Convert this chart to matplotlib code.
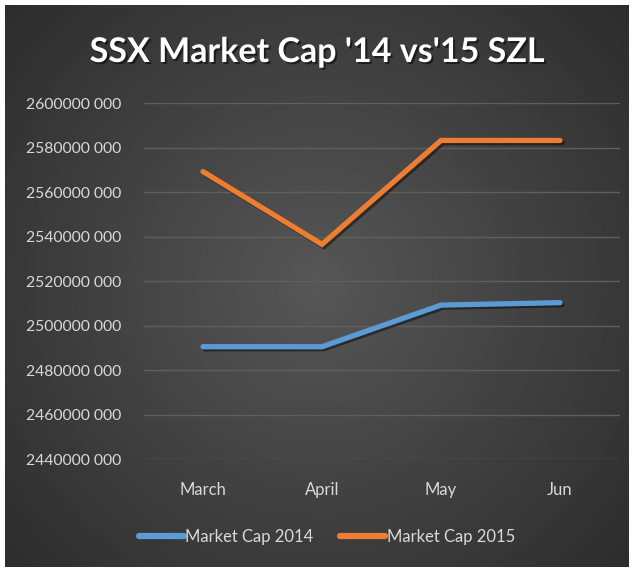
import numpy as np
import matplotlib
matplotlib.use("Agg")
import matplotlib.pyplot as plt
import matplotlib.patheffects as pe
from matplotlib.ticker import FuncFormatter

# data
months = ["March", "April", "May", "Jun"]
cap_2014 = [2490.6e6, 2490.6e6, 2509.3e6, 2510.4e6]
cap_2015 = [2569.3e6, 2536.6e6, 2583.3e6, 2583.3e6]
y_ticks = [2440e6 + 20e6 * i for i in range(9)]

W, H = 634, 572
plt.rcParams["font.family"] = ["Lato", "DejaVu Sans"]

fig = plt.figure(figsize=(W / 100, H / 100), dpi=100)
fig.patch.set_facecolor("white")

# radial gradient background
bg = fig.add_axes([5 / W, 5 / H, 624 / W, 562 / H])
bg.set_axis_off()
yy, xx = np.mgrid[0:1:300j, 0:1:300j]
r = np.sqrt((xx - 0.5) ** 2 + ((yy - 0.5) * 0.9) ** 2) / 0.7
r = np.clip(r, 0, 1)
shade = 0.34 - 0.17 * r
bg.imshow(shade, cmap="gray", vmin=0, vmax=1, extent=[0, 1, 0, 1], aspect="auto")

ax = fig.add_axes([143.5 / W, (H - 459.3) / H, 476 / W, 356 / H])
ax.set_facecolor("none")
x = np.arange(len(months))
shadow = [pe.SimpleLineShadow(offset=(1.5, -1.5), shadow_color="black", alpha=0.45), pe.Normal()]
ax.plot(x, cap_2014, color="#5B9BD5", lw=3.8, solid_capstyle="round", solid_joinstyle="miter",
        label="Market Cap 2014", path_effects=shadow, zorder=3)
ax.plot(x, cap_2015, color="#ED7D31", lw=3.8, solid_capstyle="round", solid_joinstyle="miter",
        label="Market Cap 2015", path_effects=shadow, zorder=3)

ax.set_xlim(-0.5, 3.5)
ax.set_ylim(2440e6, 2600e6)
ax.set_yticks(y_ticks)
ax.yaxis.set_major_formatter(FuncFormatter(lambda v, p: f"{int(round(v)) // 1000} {int(round(v)) % 1000:03d}"))
ax.set_xticks(x)
ax.set_xticklabels(months)
ax.grid(axis="y", color="#5f5f5f", lw=1)
ax.set_axisbelow(True)
for s in ax.spines.values():
    s.set_visible(False)
ax.tick_params(length=0, colors="#d9d9d9", labelsize=12)
ax.tick_params(axis="y", pad=16, labelsize=11.3)
ax.tick_params(axis="x", pad=16)

fig.text(317 / W, 1 - 52 / H, "SSX Market Cap '14 vs'15 SZL", ha="center", va="center",
         color="white", fontsize=24.5, fontweight="bold",
         path_effects=[pe.withSimplePatchShadow(offset=(1.5, -1.5), shadow_rgbFace="black", alpha=0.5)])

leg = fig.legend(loc="center", bbox_to_anchor=(327 / W, 1 - 537 / H), ncol=2, frameon=False,
                 fontsize=12, labelcolor="#d9d9d9", handlelength=2.7, handletextpad=0.1,
                 columnspacing=1.6)
for h in leg.get_lines():
    h.set_linewidth(4.5)
    h.set_solid_capstyle("round")
    h.set_path_effects([])

fig.savefig("out.png", dpi=100, facecolor="white")
